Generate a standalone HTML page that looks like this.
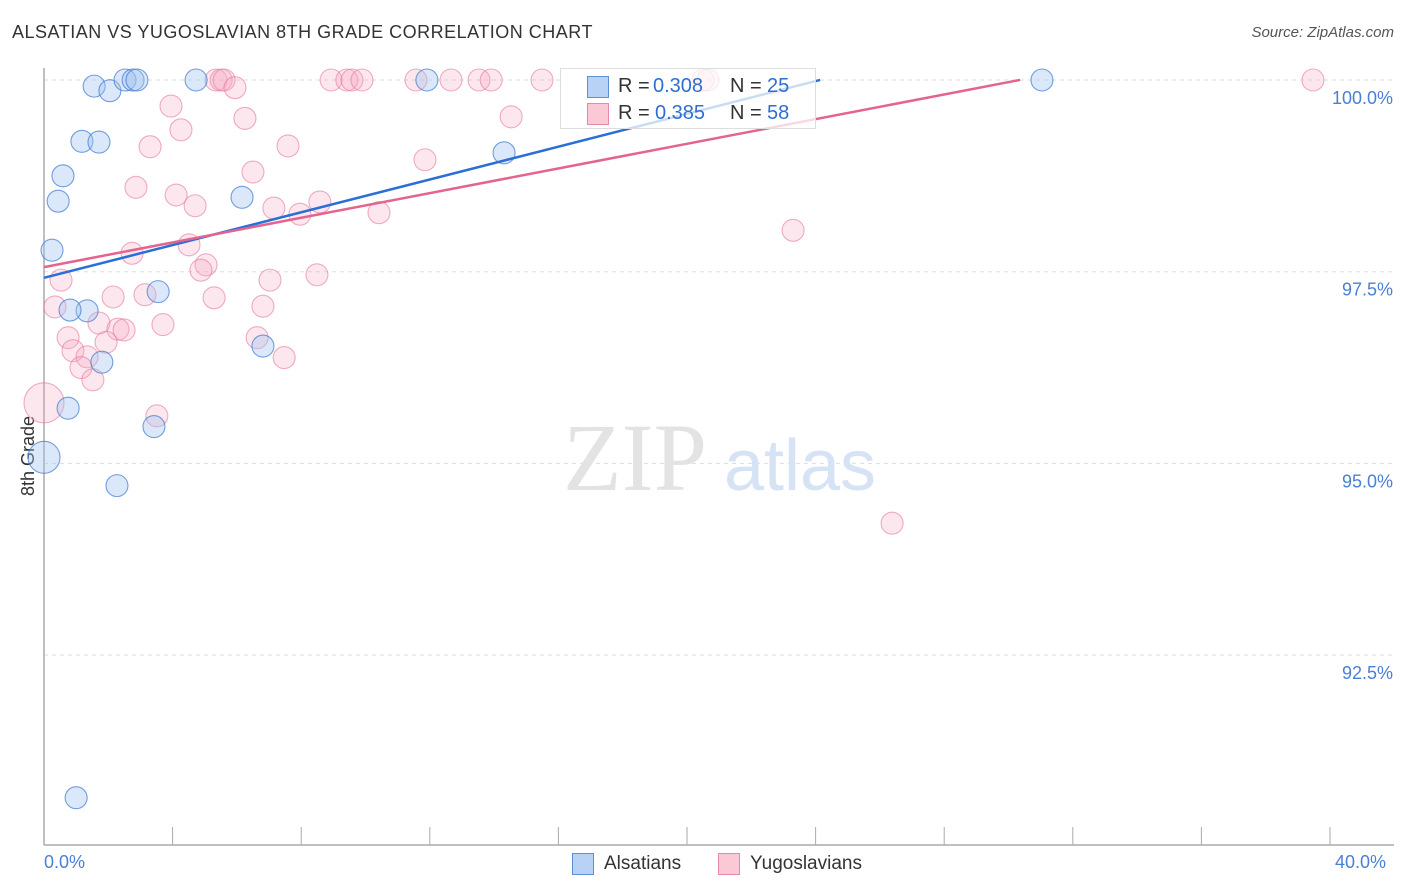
<!DOCTYPE html>
<html><head><meta charset="utf-8"><style>
body{margin:0;background:#fff;font-family:"Liberation Sans",sans-serif}
#wrap{position:relative;width:1406px;height:892px}
.t{position:absolute;white-space:nowrap}
</style></head><body>
<div id="wrap">
<div class="t" style="left:12px;top:22px;font-size:18px;color:#333;letter-spacing:0.5px">ALSATIAN VS YUGOSLAVIAN 8TH GRADE CORRELATION CHART</div>
<div class="t" style="right:12px;top:24px;font-size:15px;color:#555;font-style:italic">Source: ZipAtlas.com</div>
<svg id="svg" width="1406" height="892" style="position:absolute;left:0;top:0"></svg>
</div>
<script>
const blueX=[1.56,2.05,2.52,2.77,2.89,4.73,11.91,31.04,1.18,1.71,0.59,0.44,6.16,14.31,0.25,3.55,1.34,0.81,1.80,6.81,0.75,3.42,0.0,2.27,1.0];
const blueY=[99.92,99.86,100,100,100,100,100,100,99.20,99.19,98.75,98.42,98.47,99.05,97.78,97.24,96.99,97.00,96.32,96.53,95.72,95.48,95.08,94.71,90.64];
const blueR=[11,11,11,11,11,11,11,11,11,11,11,11,11,11,11,11,11,11,11,11,11,11,16,11,11];
const pinkX=[8.93,9.42,9.58,9.89,11.57,12.66,13.53,13.91,15.49,20.50,20.65,39.47,5.35,5.51,5.60,5.94,3.95,4.26,6.25,3.30,7.59,11.85,14.53,6.50,2.86,4.11,4.70,7.15,7.96,8.58,10.42,23.30,2.74,4.51,5.04,4.88,0.53,7.03,8.49,0.34,2.15,3.14,5.29,6.81,0.75,1.71,3.70,2.30,2.49,1.93,6.63,0.90,1.34,1.15,1.52,7.47,3.51,0,26.38];
const pinkY=[100,100,100,100,100,100,100,100,100,100,100,100,100,100,100,99.90,99.66,99.35,99.50,99.13,99.14,98.96,99.52,98.80,98.60,98.50,98.36,98.33,98.25,98.41,98.27,98.04,97.74,97.85,97.59,97.52,97.39,97.39,97.46,97.04,97.17,97.20,97.16,97.05,96.64,96.83,96.81,96.75,96.74,96.58,96.64,96.47,96.39,96.25,96.09,96.38,95.62,95.79,94.22];
const pinkR=pinkX.map((v,i)=>i===57?20:11);
const trendBlue=[97.42,0.1069,24.14];
const trendPink=[97.56,0.0804,30.36];
const yTicks=[100,97.5,95,92.5];
const yTickLabels=["100.0%","97.5%","95.0%","92.5%"];
const xTicks=[0,4,8,12,16,20,24,28,32,36,40];
const NS="http://www.w3.org/2000/svg";
const svg=document.getElementById('svg');
const X=v=>44+v*32.15, Y=v=>80+(100-v)*76.68;
function mk(tag,attrs,parent){const e=document.createElementNS(NS,tag);for(const k in attrs)e.setAttribute(k,attrs[k]);(parent||svg).appendChild(e);return e;}
yTicks.forEach((t,i)=>{
 const g=mk('line',{x1:44,x2:1394,y1:Y(t),y2:Y(t),stroke:'#ddd','stroke-dasharray':'4,4'});
 
 
 const tx=mk('text',{x:1393,y:Y(t)+24,'text-anchor':'end','font-size':18,fill:'#4a7fd6','font-family':'Liberation Sans'});
 tx.textContent=yTickLabels[i];
 
 
});
const yt=mk('text',{x:0,y:0,transform:'translate(34,456) rotate(-90)','text-anchor':'middle','font-size':18,fill:'#333','font-family':'Liberation Sans'});
yt.textContent='8th Grade';


const ax=mk('line',{x1:44,x2:44,y1:68,y2:845,stroke:'#aaa','stroke-width':1.5});


const bx=mk('line',{x1:44,x2:1394,y1:845,y2:845,stroke:'#aaa','stroke-width':1.5});


xTicks.forEach(t=>{const l=mk('line',{x1:X(t),x2:X(t),y1:827,y2:845,stroke:'#aaa'});
 
 });
const w1=mk('text',{x:635,y:490,'text-anchor':'middle','font-size':96,fill:'#e3e3e3','font-family':'Liberation Serif'});w1.textContent='ZIP';


const w2=mk('text',{x:800,y:490,'text-anchor':'middle','font-size':72,fill:'#d6e3f5','font-family':'Liberation Sans'});w2.textContent='atlas';


function pts(xs,ys,rs,fill,stroke,name){xs.forEach((x,i)=>{const c=mk('circle',{cx:X(x),cy:Y(ys[i]),r:rs[i],fill:fill,stroke:stroke,'stroke-width':1.1});
 
 });}
pts(pinkX,pinkY,pinkR,'rgba(246,170,195,0.28)','rgba(230,120,155,0.6)','yugoslavian-point');
pts(blueX,blueY,blueR,'rgba(160,195,240,0.38)','rgba(60,120,210,0.7)','alsatian-point');
const lb=mk('line',{x1:X(0),y1:Y(trendBlue[0]),x2:X(trendBlue[2]),y2:Y(trendBlue[0]+trendBlue[1]*trendBlue[2]),stroke:'#2a6fd6','stroke-width':2.5});


const lp=mk('line',{x1:X(0),y1:Y(trendPink[0]),x2:X(trendPink[2]),y2:Y(trendPink[0]+trendPink[1]*trendPink[2]),stroke:'#e4648f','stroke-width':2.5});


</script>
<div class="t" style="left:44px;top:852px;font-size:18px;color:#4a7fd6">0.0%</div>
<div class="t" style="left:1335px;top:852px;font-size:18px;color:#4a7fd6">40.0%</div>
<div style="position:absolute;left:560px;top:68px;width:256px;height:61px;background:rgba(255,255,255,0.75);border:1px solid #ddd;box-sizing:border-box">
 <div style="position:absolute;left:26px;top:7px;width:20px;height:20px;background:#b8d2f5;border:1px solid #5b8fd8"></div>
 <div class="t" style="left:57px;top:6px;font-size:20px;color:#333">R = <span style="position:absolute;left:35px;color:#2f6fd0">0.308</span><span style="position:absolute;left:112px">N =</span><span style="position:absolute;left:149px;color:#2f6fd0">25</span></div>
 <div style="position:absolute;left:26px;top:34px;width:20px;height:20px;background:#fbc8d6;border:1px solid #e58aa8"></div>
 <div class="t" style="left:57px;top:33px;font-size:20px;color:#333">R = <span style="position:absolute;left:37px;color:#2f6fd0">0.385</span><span style="position:absolute;left:112px">N =</span><span style="position:absolute;left:149px;color:#2f6fd0">58</span></div>
</div>
<div style="position:absolute;left:572px;top:853px;width:22px;height:22px;background:#b8d2f5;border:1px solid #5b8fd8;box-sizing:border-box"></div>
<div class="t" style="left:604px;top:853px;font-size:19px;color:#333">Alsatians</div>
<div style="position:absolute;left:718px;top:853px;width:22px;height:22px;background:#fbc8d6;border:1px solid #e58aa8;box-sizing:border-box"></div>
<div class="t" style="left:750px;top:853px;font-size:19px;color:#333">Yugoslavians</div>
</body></html>
